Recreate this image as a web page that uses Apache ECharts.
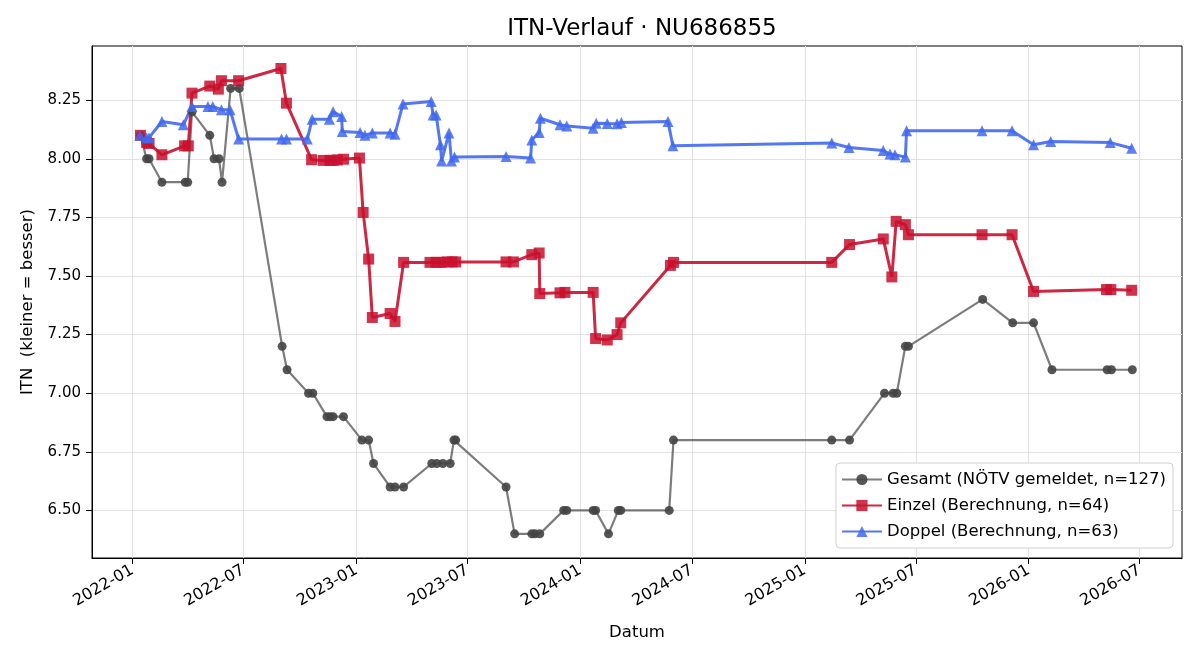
<!DOCTYPE html>
<html>
<head>
<meta charset="utf-8">
<title>ITN-Verlauf</title>
<script src="https://cdn.jsdelivr.net/npm/echarts@6/dist/echarts.min.js"></script>
<style>
  html, body { margin: 0; padding: 0; background: #fff; }
  #chart { width: 1200px; height: 660px; }
</style>
</head>
<body>
<div id="chart"></div>
<script>
// Gesamt (NÖTV gemeldet)
var gesamtDates = ['2022-01-14','2022-01-24','2022-01-28','2022-02-18','2022-03-28','2022-04-01','2022-04-08','2022-05-07','2022-05-14','2022-05-22','2022-05-27','2022-06-10','2022-06-24','2022-09-02','2022-09-10','2022-10-15','2022-10-22','2022-11-14','2022-11-19','2022-11-24','2022-12-11','2023-01-10','2023-01-21','2023-01-29','2023-02-25','2023-03-05','2023-03-19','2023-05-04','2023-05-12','2023-05-22','2023-06-03','2023-06-09','2023-06-12','2023-09-02','2023-09-16','2023-10-14','2023-10-19','2023-10-27','2023-12-05','2023-12-10','2024-01-22','2024-01-26','2024-02-16','2024-03-03','2024-03-07','2024-05-25','2024-06-01','2025-02-14','2025-03-15','2025-05-11','2025-05-25','2025-05-31','2025-06-14','2025-06-19','2025-10-18','2025-12-06','2026-01-09','2026-02-08','2026-05-09','2026-05-16','2026-06-19'];
var gesamtValues = [8.1,8.0,8.0,7.9,7.9,7.9,8.2,8.1,8.0,8.0,7.9,8.3,8.3,7.2,7.1,7.0,7.0,6.9,6.9,6.9,6.9,6.8,6.8,6.7,6.6,6.6,6.6,6.7,6.7,6.7,6.7,6.8,6.8,6.6,6.4,6.4,6.4,6.4,6.5,6.5,6.5,6.5,6.4,6.5,6.5,6.5,6.8,6.8,6.8,7.0,7.0,7.0,7.2,7.2,7.4,7.3,7.3,7.1,7.1,7.1,7.1];

// Einzel (Berechnung)
var einzelDates = ['2022-01-14','2022-01-24','2022-01-28','2022-02-18','2022-03-27','2022-04-02','2022-04-08','2022-05-07','2022-05-21','2022-05-26','2022-06-23','2022-08-31','2022-09-09','2022-10-20','2022-11-08','2022-11-19','2022-11-24','2022-12-01','2022-12-11','2023-01-06','2023-01-12','2023-01-21','2023-01-27','2023-02-25','2023-03-05','2023-03-19','2023-05-01','2023-05-11','2023-05-19','2023-05-29','2023-06-06','2023-06-12','2023-09-02','2023-09-14','2023-10-14','2023-10-26','2023-10-27','2023-11-29','2023-12-07','2024-01-22','2024-01-26','2024-02-14','2024-03-01','2024-03-07','2024-05-27','2024-06-01','2025-02-14','2025-03-15','2025-05-09','2025-05-23','2025-05-30','2025-06-14','2025-06-19','2025-10-17','2025-12-05','2026-01-09','2026-05-08','2026-05-15','2026-06-18'];
var einzelValues = [8.10,8.07,8.065,8.017,8.055,8.055,8.28,8.31,8.297,8.333,8.333,8.385,8.237,7.996,7.993,7.993,7.993,7.995,7.998,8.003,7.771,7.572,7.323,7.34,7.306,7.558,7.558,7.558,7.558,7.56,7.56,7.56,7.56,7.56,7.591,7.598,7.425,7.428,7.43,7.43,7.233,7.227,7.25,7.30,7.545,7.558,7.558,7.634,7.658,7.496,7.733,7.719,7.676,7.676,7.676,7.434,7.442,7.442,7.439];

// Doppel (Berechnung)
var doppelDates = ['2022-01-13','2022-01-24','2022-01-28','2022-02-18','2022-03-25','2022-04-08','2022-05-04','2022-05-12','2022-05-26','2022-06-09','2022-06-23','2022-09-01','2022-09-09','2022-10-13','2022-10-21','2022-11-18','2022-11-24','2022-12-08','2022-12-09','2023-01-07','2023-01-15','2023-01-27','2023-02-25','2023-03-05','2023-03-18','2023-05-03','2023-05-06','2023-05-11','2023-05-18','2023-05-20','2023-06-01','2023-06-05','2023-06-10','2023-09-02','2023-10-12','2023-10-14','2023-10-26','2023-10-28','2023-11-29','2023-12-10','2024-01-22','2024-01-27','2024-02-14','2024-03-01','2024-03-08','2024-05-23','2024-05-31','2025-02-14','2025-03-14','2025-05-09','2025-05-20','2025-05-28','2025-06-14','2025-06-16','2025-10-17','2025-12-05','2026-01-09','2026-02-06','2026-05-14','2026-06-18'];
var doppelValues = [8.10,8.09,8.09,8.159,8.145,8.223,8.223,8.223,8.209,8.209,8.084,8.084,8.084,8.084,8.169,8.169,8.201,8.18,8.116,8.112,8.10,8.11,8.11,8.105,8.234,8.244,8.187,8.187,8.06,7.99,8.11,7.99,8.007,8.01,8.003,8.08,8.112,8.173,8.145,8.14,8.13,8.152,8.15,8.149,8.155,8.159,8.055,8.067,8.048,8.035,8.02,8.017,8.007,8.12,8.12,8.12,8.06,8.074,8.069,8.045];

// axis ticks
var xTickLabels = ['2022-01','2022-07','2023-01','2023-07','2024-01','2024-07','2025-01','2025-07','2026-01','2026-07'];
var yTicks = [6.50, 6.75, 7.00, 7.25, 7.50, 7.75, 8.00, 8.25];

var FONT = 'DejaVu Sans';
var GRID_LEFT = 92, GRID_RIGHT = 18;

function toTime(s) {
    var p = s.split('-');
    return new Date(+p[0], +p[1] - 1, p[2] ? +p[2] : 1).getTime();
}
function zip(dates, values) {
    return dates.map(function (d, i) { return [toTime(d), values[i]]; });
}
function pad(n) { return n < 10 ? '0' + n : '' + n; }

var xTicks = xTickLabels.map(toTime);

var myChart = echarts.init(document.getElementById('chart'));
myChart.setOption({
    animation: false,
    backgroundColor: '#fff',
    textStyle: { fontFamily: FONT },
    title: {
        text: 'ITN-Verlauf · NU686855',
        // matplotlib centres the title over the axes, not the figure
        left: (GRID_LEFT + 1200 - GRID_RIGHT) / 2,
        textAlign: 'center',
        top: 13,
        textStyle: { fontFamily: FONT, fontSize: 23, fontWeight: 'normal', color: '#000' }
    },
    grid: {
        left: GRID_LEFT, right: GRID_RIGHT, top: 46, bottom: 102,
        show: true, borderColor: '#000', borderWidth: 1, backgroundColor: 'transparent'
    },
    legend: {
        orient: 'vertical',
        right: 27,
        bottom: 112,
        itemWidth: 40,
        itemHeight: 14,
        itemGap: 7,
        padding: [7, 7, 7, 5],
        backgroundColor: '#fff',
        borderColor: '#d0d0d0',
        borderWidth: 1,
        borderRadius: 4,
        textStyle: { fontFamily: FONT, fontSize: 16.5, lineHeight: 19, color: '#000' },
        data: ['Gesamt (NÖTV gemeldet, n=127)', 'Einzel (Berechnung, n=64)', 'Doppel (Berechnung, n=63)']
    },
    xAxis: {
        type: 'value',
        min: toTime('2021-10-27'),
        max: toTime('2026-09-08'),
        name: 'Datum',
        nameLocation: 'middle',
        nameGap: 66,
        nameTextStyle: { fontFamily: FONT, fontSize: 16.5, color: '#000' },
        axisLine: { lineStyle: { color: '#000', width: 1 } },
        axisTick: { show: true, length: 6, customValues: xTicks, lineStyle: { color: '#000' } },
        axisLabel: {
            customValues: xTicks,
            rotate: 30,
            margin: 11,
            fontFamily: FONT,
            fontSize: 16,
            color: '#000',
            formatter: function (v) {
                var d = new Date(v);
                return d.getFullYear() + '-' + pad(d.getMonth() + 1);
            }
        },
        splitLine: { show: true, lineStyle: { color: '#e2e2e2', width: 1 } }
    },
    yAxis: {
        type: 'value',
        min: 6.297,
        max: 8.481,
        name: 'ITN  (kleiner = besser)',
        nameLocation: 'middle',
        nameGap: 56,
        nameTextStyle: { fontFamily: FONT, fontSize: 16.5, color: '#000' },
        axisLine: { show: true, lineStyle: { color: '#000', width: 1 } },
        axisTick: { show: true, length: 6, customValues: yTicks, lineStyle: { color: '#000' } },
        axisLabel: {
            customValues: yTicks,
            margin: 11,
            fontFamily: FONT,
            fontSize: 15,
            color: '#000',
            formatter: function (v) { return v.toFixed(2); }
        },
        splitLine: { show: true, lineStyle: { color: '#e2e2e2', width: 1 } }
    },
    series: [
        {
            name: 'Gesamt (NÖTV gemeldet, n=127)',
            type: 'line',
            data: zip(gesamtDates, gesamtValues),
            symbol: 'circle',
            symbolSize: 9,
            lineStyle: { color: 'rgba(68,68,68,0.7)', width: 2.2 },
            itemStyle: { color: '#444', opacity: 0.9 }
        },
        {
            name: 'Einzel (Berechnung, n=64)',
            type: 'line',
            data: zip(einzelDates, einzelValues),
            symbol: 'rect',
            symbolSize: 11,
            lineStyle: { color: 'rgba(200,16,46,0.9)', width: 3 },
            itemStyle: { color: '#c8102e', opacity: 0.85 }
        },
        {
            name: 'Doppel (Berechnung, n=63)',
            type: 'line',
            data: zip(doppelDates, doppelValues),
            symbol: 'triangle',
            symbolSize: 11,
            lineStyle: { color: 'rgba(65,105,240,0.9)', width: 3 },
            itemStyle: { color: '#4169f0', opacity: 0.85 }
        }
    ]
});
</script>
</body>
</html>
